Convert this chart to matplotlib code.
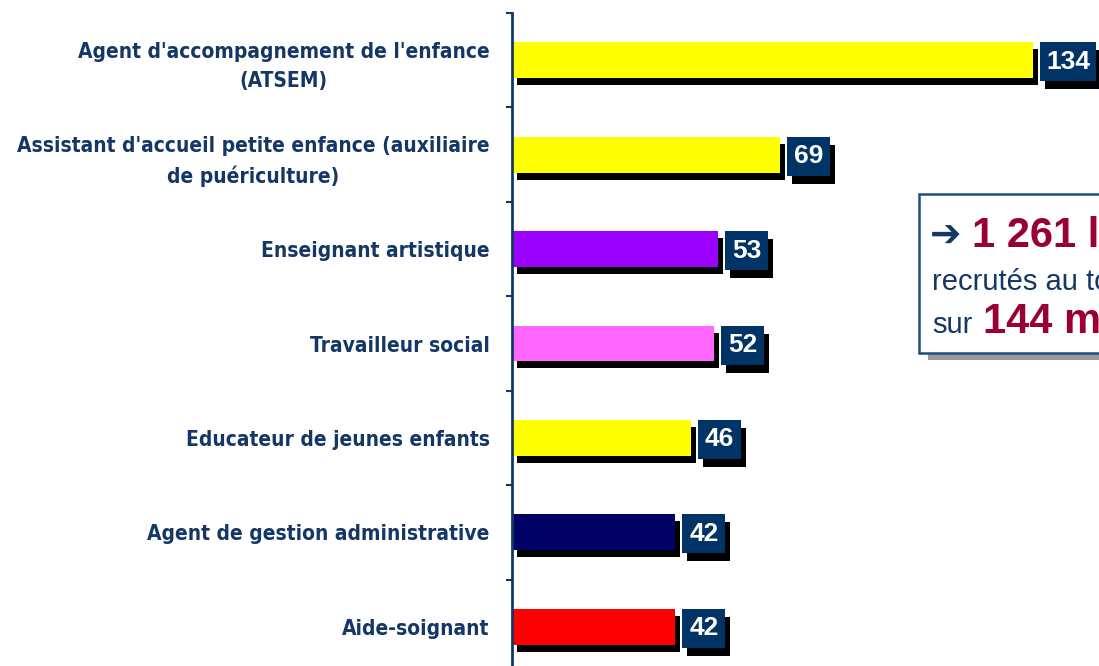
import matplotlib
matplotlib.use('Agg')
import matplotlib.pyplot as plt
from matplotlib.transforms import ScaledTranslation
from matplotlib.patches import Rectangle

categories = ["Agent d'accompagnement de l'enfance\n(ATSEM)",
              "Assistant d'accueil petite enfance (auxiliaire\nde puériculture)",
              "Enseignant artistique",
              "Travailleur social",
              "Educateur de jeunes enfants",
              "Agent de gestion administrative",
              "Aide-soignant"]
values = [134, 69, 53, 52, 46, 42, 42]
colors = ['#FFFF00', '#FFFF00', '#9900FF', '#FF66FF', '#FFFF00', '#000066', '#FF0000']

W, H = 1099, 666
DPI = 100
NAVY = '#143766'
BOXBLUE = '#003366'
CRIMSON = '#990033'

fig = plt.figure(figsize=(W / DPI, H / DPI), dpi=DPI)
ax = fig.add_axes([512 / W, 1 - 674 / H, (W - 512) / W, 661 / H])
ax.set_xlim(0, (W - 512) / 3.89)
ax.set_ylim(len(values) - 0.5, -0.5)

ypos = list(range(len(values)))
bh = 0.38
# shadows
shadow_tr = ax.transData + ScaledTranslation(5 / DPI, -7 / DPI, fig.dpi_scale_trans)
ax.barh(ypos, values, height=bh, color='black', transform=shadow_tr, clip_on=False, zorder=1)
ax.barh(ypos, values, height=bh, color=colors, zorder=2, clip_on=False)

# value boxes
for i, v in enumerate(values):
    anchor = ScaledTranslation(v, i, ax.transData)
    tr = fig.dpi_scale_trans + anchor
    w = 17 + 13 * len(str(v))
    h = 39
    dx = 7
    dy = -1.5
    ax.add_patch(Rectangle(((dx + 5) / DPI, (dy - h / 2 - 8) / DPI), w / DPI, h / DPI,
                           transform=tr, facecolor='black', edgecolor='none',
                           clip_on=False, zorder=3))
    ax.add_patch(Rectangle((dx / DPI, (dy - h / 2) / DPI), w / DPI, h / DPI,
                           transform=tr, facecolor=BOXBLUE, edgecolor='none',
                           clip_on=False, zorder=4))
    ax.text((dx + w / 2) / DPI, dy / DPI, str(v), transform=tr, ha='center', va='center',
            color='white', fontsize=19, fontweight='bold', fontstretch='condensed',
            family=['Liberation Sans Narrow', 'Liberation Sans'], zorder=5, clip_on=False)

# axes styling
for s in ['top', 'right', 'bottom']:
    ax.spines[s].set_visible(False)
ax.spines['left'].set_color(NAVY)
ax.spines['left'].set_linewidth(2)
ax.set_xticks([])
ax.set_yticks([y - 0.5 for y in range(len(values) + 1)])
ax.set_yticklabels([])
ax.tick_params(axis='y', which='major', direction='out', length=4.5, width=1.5, color=NAVY)
ax.set_yticks(ypos, minor=True)
ax.set_yticklabels(categories, minor=True)
ax.tick_params(axis='y', which='minor', length=0, pad=16)
for t in ax.get_yticklabels(minor=True):
    t.set_multialignment('center')
    t.set_color(NAVY)
    t.set_fontsize(15)
    t.set_family('DejaVu Sans')
    t.set_fontstretch('condensed')
    t.set_fontweight('bold')
    t.set_linespacing(1.55)

# annotation box
fig.patches.append(Rectangle((928 / W, 1 - 360 / H), 300 / W, 159 / H, transform=fig.transFigure,
                             facecolor='#999999', edgecolor='none', zorder=0))
fig.patches.append(Rectangle((919 / W, 1 - 353 / H), 300 / W, 159 / H, transform=fig.transFigure,
                             facecolor='white', edgecolor='#1f4e80', linewidth=1.8, zorder=1))
fig.text(930 / W, 1 - 247 / H, '➔', color=NAVY, fontsize=27, fontweight='bold',
         family=['DejaVu Sans'], va='baseline', ha='left')
fig.text(972 / W, 1 - 247 / H, '1 261 lauréats', color=CRIMSON, fontsize=30, fontweight='bold',
         family=['Liberation Sans'], va='baseline', ha='left')
fig.text(932 / W, 1 - 290 / H, 'recrutés au total', color=NAVY, fontsize=21,
         family=['Liberation Sans'], va='baseline', ha='left')
fig.text(932 / W, 1 - 333 / H, 'sur', color=NAVY, fontsize=21,
         family=['Liberation Sans'], va='baseline', ha='left')
fig.text(983 / W, 1 - 333 / H, '144 métiers', color=CRIMSON, fontsize=30, fontweight='bold',
         family=['Liberation Sans'], va='baseline', ha='left')

fig.savefig('out.png', dpi=DPI)
